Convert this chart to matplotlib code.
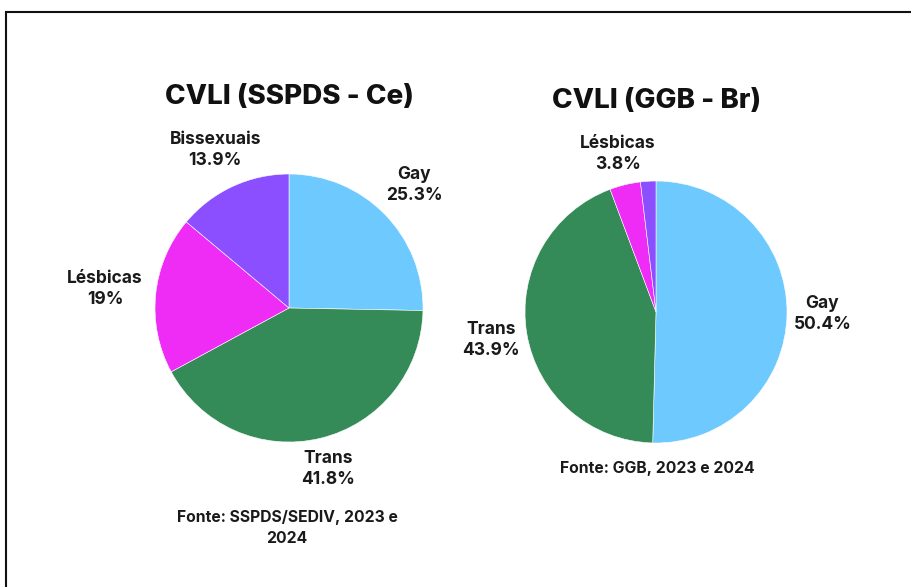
import matplotlib
matplotlib.use("Agg")
import matplotlib.pyplot as plt
import numpy as np
from matplotlib.patches import Rectangle

# Data
categories_left = ["Gay", "Trans", "Lésbicas", "Bissexuais"]
values_left = [25.3, 41.8, 19.0, 13.9]
labels_left = ["Gay\n25.3%", "Trans\n41.8%", "Lésbicas\n19%", "Bissexuais\n13.9%"]

categories_right = ["Gay", "Trans", "Lésbicas", "Bissexuais"]
values_right = [50.4, 43.9, 3.8, 1.9]
labels_right = ["Gay\n50.4%", "Trans\n43.9%", "Lésbicas\n3.8%", ""]

colors = ["#6ec9fe", "#358b57", "#ef2bf6", "#8b4fff"]

title_left = "CVLI (SSPDS - Ce)"
title_right = "CVLI (GGB - Br)"
source_left = "Fonte: SSPDS/SEDIV, 2023 e\n2024"
source_right = "Fonte: GGB, 2023 e 2024"

plt.rcParams['font.family'] = ['Inter', 'DejaVu Sans']

W, H = 911, 587
fig = plt.figure(figsize=(W / 100, H / 100), dpi=100)

def add_pie(cx, cy, r, values, labels, ldist):
    size = 3 * r
    ax = fig.add_axes([(cx - size / 2) / W, (H - cy - size / 2) / H, size / W, size / H])
    wedges, _ = ax.pie(values, colors=colors, startangle=90, counterclock=False,
                       radius=1.0, wedgeprops=dict(edgecolor="white", linewidth=0.4))
    ax.set_xlim(-1.5, 1.5)
    ax.set_ylim(-1.5, 1.5)
    ax.set_aspect("equal")
    ax.axis("off")
    for w, lab, d in zip(wedges, labels, ldist):
        if not lab:
            continue
        ang = np.deg2rad((w.theta1 + w.theta2) / 2)
        ax.text(d * np.cos(ang), d * np.sin(ang), lab, ha="center", va="center",
                fontsize=12.5, fontweight="bold", color="#1a1a1a", linespacing=1.3,
                clip_on=False)
    return ax

add_pie(289, 308, 134, values_left, labels_left, [1.31, 1.24, 1.38, 1.30])
add_pie(656, 312, 131, values_right, labels_right, [1.27, 1.28, 1.24, 1.3])

fig.text(289 / W, 1 - 97 / H, title_left, ha="center", va="center",
         fontsize=20, fontweight="heavy", color="#111111")
fig.text(657 / W, 1 - 101 / H, title_right, ha="center", va="center",
         fontsize=20, fontweight="heavy", color="#111111")
fig.text(287 / W, 1 - 528 / H, source_left, ha="center", va="center",
         fontsize=11.3, fontweight="bold", color="#1a1a1a", linespacing=1.55)
fig.text(657 / W, 1 - 468 / H, source_right, ha="center", va="center",
         fontsize=11.3, fontweight="bold", color="#1a1a1a")

frame = Rectangle((6 / W, -0.1), 1.2, 1.1 - 12 / H, transform=fig.transFigure,
                  fill=False, edgecolor="#111111", linewidth=1.5, clip_on=False)
fig.patches.append(frame)

fig.savefig("out.png", dpi=100)
